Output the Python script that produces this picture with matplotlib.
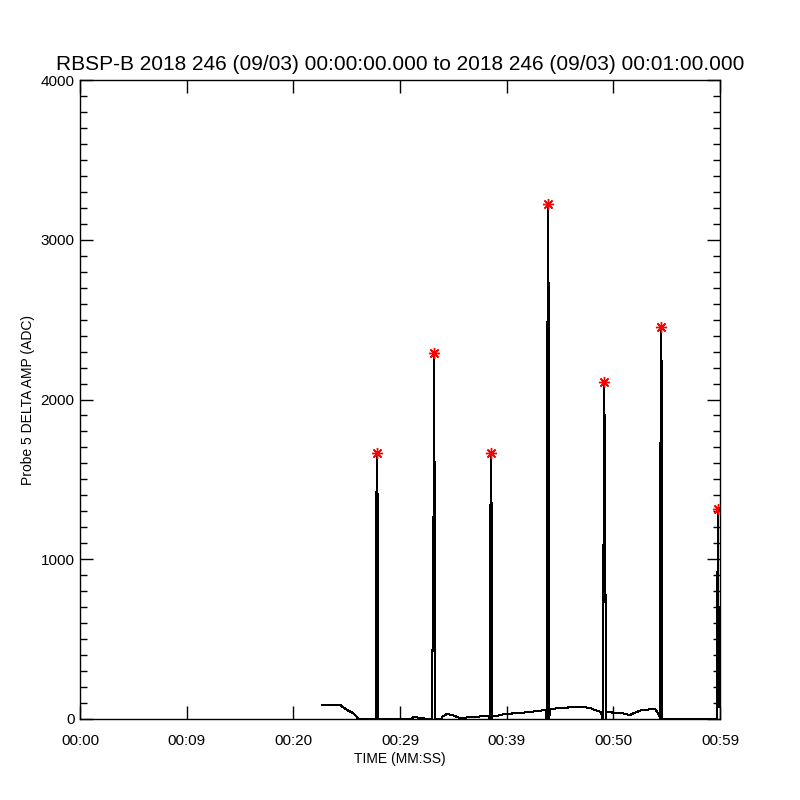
import matplotlib
matplotlib.use("Agg")
import matplotlib.pyplot as plt
from matplotlib.ticker import MultipleLocator

plt.rcParams['font.family'] = ['Liberation Sans', 'DejaVu Sans']

# Trace data (seconds from start, ADC amplitude)
times = [
    22.69, 24.38, 25.03, 25.59, 25.97, 26.06,
    27.72, 27.73, 27.84, 27.94, 27.95,
    31.10, 31.20, 31.50, 31.80, 32.20, 32.30,
    33.00, 33.01, 33.10, 33.21, 33.24, 33.27, 33.28,
    33.90, 33.94, 34.40, 34.88, 35.63, 36.84, 38.25,
    38.42, 38.43, 38.50, 38.53, 38.57, 38.61, 38.62, 38.66,
    39.09, 39.75, 41.25, 42.19, 42.84, 43.69,
    43.74, 43.75, 43.83, 43.90, 43.93, 43.97, 43.99, 44.00, 44.04,
    44.25, 45.00, 46.56, 47.16, 47.81, 48.28, 48.84,
    48.99, 49.00, 49.06, 49.10, 49.15, 49.20, 49.28, 49.29, 49.34,
    50.00, 50.91, 51.56, 52.03, 52.69, 53.91, 54.09, 54.36,
    54.37, 54.40, 54.45, 54.50, 54.53, 54.57, 54.58,
    59.72, 59.73, 59.80, 59.85, 59.90, 59.94, 59.98,
]
values = [
    88, 88, 56, 38, 13, 0,
    0, 1027, 1665, 1152, 0,
    0, 10, 12, 6, 6, 0,
    0, 294, 620, 2291, 1390, 620, 0,
    0, 13, 31, 25, 6, 13, 19,
    0, 914, 1446, 1665, 1446, 914, 0, 19,
    19, 31, 38, 44, 50, 56,
    0, 951, 2491, 3224, 2491, 951, 388, 0, 63,
    63, 69, 75, 75, 69, 56, 44,
    0, 288, 570, 1602, 2110, 1602, 570, 0, 44,
    40, 35, 25, 40, 56, 63, 46, 15,
    0, 1484, 2003, 2454, 2003, 1484, 0,
    0, 475, 1315, 700, 75, 700, 75,
]

# Peak markers
peak_times = [27.84, 33.21, 38.53, 43.90, 49.15, 54.50, 59.80]
peak_values = [1665, 2291, 1665, 3224, 2110, 2454, 1315]

xtick_pos = [0, 10, 20, 30, 40, 50, 60]
xtick_labels = ["00:00", "00:09", "00:20", "00:29", "00:39", "00:50", "00:59"]
ytick_pos = [0, 1000, 2000, 3000, 4000]

fig = plt.figure(figsize=(8, 8), dpi=100)
ax = fig.add_axes([0.1, 0.10125, 0.8, 0.79875])

ax.plot(times, values, color='black', linewidth=0.75, antialiased=False)
ax.plot(peak_times, peak_values, linestyle='none', marker=(8, 2, 0),
        markersize=8, color='red', markeredgewidth=1.0)

ax.set_xlim(0, 60)
ax.set_ylim(0, 4000)
ax.set_xticks(xtick_pos)
ax.set_xticklabels(xtick_labels)
ax.set_yticks(ytick_pos)
ax.yaxis.set_minor_locator(MultipleLocator(100))

ax.tick_params(axis='both', which='both', direction='in', top=True, right=True,
               labelsize=11, color='black')
ax.tick_params(axis='both', which='major', length=9.5, width=1)
ax.tick_params(axis='y', which='minor', length=4.7, width=1)
ax.tick_params(axis='x', which='major', pad=11)
ax.tick_params(axis='y', which='major', pad=4)

for s in ax.spines.values():
    s.set_linewidth(1)

ax.set_title("RBSP-B 2018 246 (09/03) 00:00:00.000 to 2018 246 (09/03) 00:01:00.000",
             fontsize=15, pad=7)
ax.set_xlabel("TIME (MM:SS)", fontsize=10, labelpad=3)
ax.set_ylabel("Probe 5 DELTA AMP (ADC)", fontsize=10, labelpad=4)

fig.savefig("out.png", dpi=100)
